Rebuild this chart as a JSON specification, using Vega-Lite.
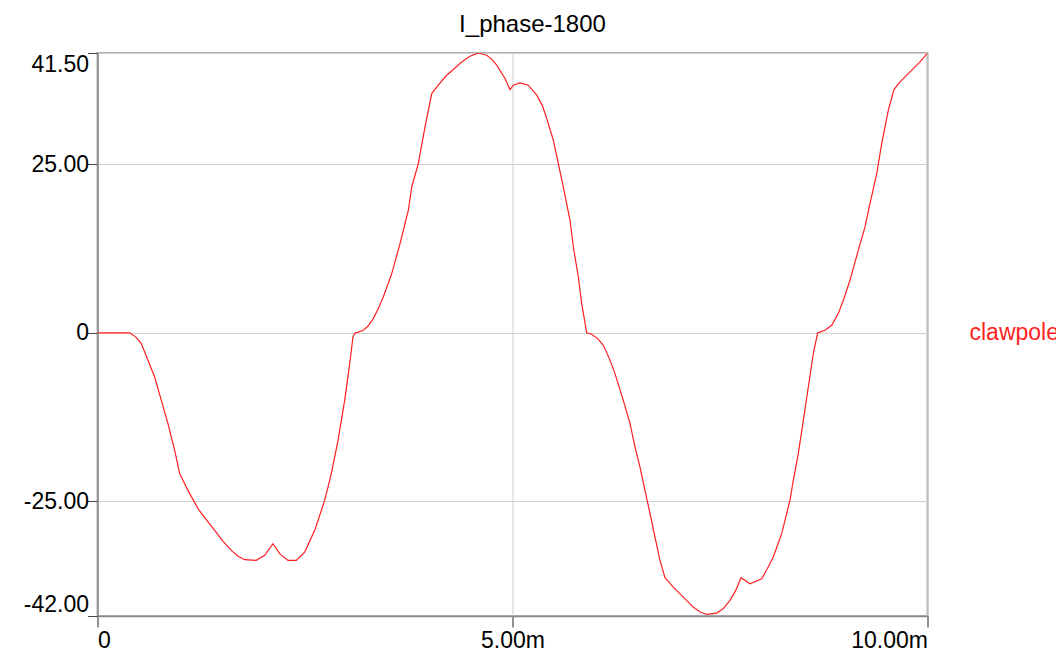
{
  "$schema": "https://vega.github.io/schema/vega-lite/v6.json",
  "autosize": {"type": "none"},
  "width": 830,
  "height": 563,
  "padding": {"left": 97.5, "top": 53, "right": 130, "bottom": 47},
  "background": "white",
  "title": {"text": "I_phase-1800", "fontSize": 24, "font": "Liberation Sans", "fontWeight": "normal", "color": "#000", "offset": 16, "dx": 20},
  "config": {
    "view": {"stroke": "#b0b0b0", "strokeWidth": 2},
    "font": "Liberation Sans"
  },
  "data": {"values": [
    {"t": 0, "v": 0, "s": "clawpole"},
    {"t": 0.388, "v": 0, "s": "clawpole"},
    {"t": 0.46, "v": -0.6, "s": "clawpole"},
    {"t": 0.528, "v": -1.6, "s": "clawpole"},
    {"t": 0.608, "v": -4.08, "s": "clawpole"},
    {"t": 0.689, "v": -6.56, "s": "clawpole"},
    {"t": 0.769, "v": -10.01, "s": "clawpole"},
    {"t": 0.849, "v": -13.47, "s": "clawpole"},
    {"t": 0.93, "v": -17.43, "s": "clawpole"},
    {"t": 0.99, "v": -20.89, "s": "clawpole"},
    {"t": 1.09, "v": -23.37, "s": "clawpole"},
    {"t": 1.211, "v": -26.08, "s": "clawpole"},
    {"t": 1.31, "v": -27.7, "s": "clawpole"},
    {"t": 1.412, "v": -29.3, "s": "clawpole"},
    {"t": 1.51, "v": -30.9, "s": "clawpole"},
    {"t": 1.612, "v": -32.27, "s": "clawpole"},
    {"t": 1.69, "v": -33.1, "s": "clawpole"},
    {"t": 1.773, "v": -33.65, "s": "clawpole"},
    {"t": 1.913, "v": -33.75, "s": "clawpole"},
    {"t": 2.014, "v": -33.01, "s": "clawpole"},
    {"t": 2.114, "v": -31.28, "s": "clawpole"},
    {"t": 2.195, "v": -32.76, "s": "clawpole"},
    {"t": 2.295, "v": -33.75, "s": "clawpole"},
    {"t": 2.395, "v": -33.75, "s": "clawpole"},
    {"t": 2.496, "v": -32.52, "s": "clawpole"},
    {"t": 2.617, "v": -29.3, "s": "clawpole"},
    {"t": 2.737, "v": -24.85, "s": "clawpole"},
    {"t": 2.817, "v": -20.89, "s": "clawpole"},
    {"t": 2.898, "v": -15.95, "s": "clawpole"},
    {"t": 2.978, "v": -10.01, "s": "clawpole"},
    {"t": 3.039, "v": -4.57, "s": "clawpole"},
    {"t": 3.078, "v": -0.62, "s": "clawpole"},
    {"t": 3.106, "v": 0, "s": "clawpole"},
    {"t": 3.13, "v": 0.07, "s": "clawpole"},
    {"t": 3.202, "v": 0.37, "s": "clawpole"},
    {"t": 3.26, "v": 1.0, "s": "clawpole"},
    {"t": 3.323, "v": 2.11, "s": "clawpole"},
    {"t": 3.383, "v": 3.6, "s": "clawpole"},
    {"t": 3.443, "v": 5.31, "s": "clawpole"},
    {"t": 3.545, "v": 8.78, "s": "clawpole"},
    {"t": 3.645, "v": 13.23, "s": "clawpole"},
    {"t": 3.745, "v": 18.18, "s": "clawpole"},
    {"t": 3.786, "v": 21.63, "s": "clawpole"},
    {"t": 3.865, "v": 25.1, "s": "clawpole"},
    {"t": 3.946, "v": 30.53, "s": "clawpole"},
    {"t": 4.027, "v": 35.49, "s": "clawpole"},
    {"t": 4.106, "v": 36.72, "s": "clawpole"},
    {"t": 4.207, "v": 38.2, "s": "clawpole"},
    {"t": 4.29, "v": 39.1, "s": "clawpole"},
    {"t": 4.367, "v": 39.94, "s": "clawpole"},
    {"t": 4.43, "v": 40.55, "s": "clawpole"},
    {"t": 4.488, "v": 41.02, "s": "clawpole"},
    {"t": 4.588, "v": 41.5, "s": "clawpole"},
    {"t": 4.689, "v": 41.17, "s": "clawpole"},
    {"t": 4.75, "v": 40.6, "s": "clawpole"},
    {"t": 4.81, "v": 39.69, "s": "clawpole"},
    {"t": 4.91, "v": 37.72, "s": "clawpole"},
    {"t": 4.97, "v": 36.08, "s": "clawpole"},
    {"t": 5.01, "v": 36.72, "s": "clawpole"},
    {"t": 5.09, "v": 37.06, "s": "clawpole"},
    {"t": 5.19, "v": 36.72, "s": "clawpole"},
    {"t": 5.292, "v": 35.24, "s": "clawpole"},
    {"t": 5.36, "v": 33.7, "s": "clawpole"},
    {"t": 5.412, "v": 31.78, "s": "clawpole"},
    {"t": 5.492, "v": 28.56, "s": "clawpole"},
    {"t": 5.552, "v": 25.1, "s": "clawpole"},
    {"t": 5.612, "v": 21.63, "s": "clawpole"},
    {"t": 5.693, "v": 16.69, "s": "clawpole"},
    {"t": 5.733, "v": 12.73, "s": "clawpole"},
    {"t": 5.793, "v": 8.28, "s": "clawpole"},
    {"t": 5.834, "v": 4.33, "s": "clawpole"},
    {"t": 5.894, "v": 0, "s": "clawpole"},
    {"t": 5.954, "v": -0.22, "s": "clawpole"},
    {"t": 6.03, "v": -0.9, "s": "clawpole"},
    {"t": 6.094, "v": -1.85, "s": "clawpole"},
    {"t": 6.17, "v": -3.9, "s": "clawpole"},
    {"t": 6.235, "v": -6.05, "s": "clawpole"},
    {"t": 6.335, "v": -10.01, "s": "clawpole"},
    {"t": 6.416, "v": -13.47, "s": "clawpole"},
    {"t": 6.476, "v": -16.94, "s": "clawpole"},
    {"t": 6.536, "v": -19.91, "s": "clawpole"},
    {"t": 6.596, "v": -23.37, "s": "clawpole"},
    {"t": 6.657, "v": -26.82, "s": "clawpole"},
    {"t": 6.717, "v": -30.3, "s": "clawpole"},
    {"t": 6.777, "v": -33.75, "s": "clawpole"},
    {"t": 6.837, "v": -36.32, "s": "clawpole"},
    {"t": 6.937, "v": -37.72, "s": "clawpole"},
    {"t": 7.058, "v": -39.2, "s": "clawpole"},
    {"t": 7.178, "v": -40.68, "s": "clawpole"},
    {"t": 7.26, "v": -41.4, "s": "clawpole"},
    {"t": 7.34, "v": -41.77, "s": "clawpole"},
    {"t": 7.46, "v": -41.57, "s": "clawpole"},
    {"t": 7.54, "v": -40.9, "s": "clawpole"},
    {"t": 7.62, "v": -39.69, "s": "clawpole"},
    {"t": 7.69, "v": -38.2, "s": "clawpole"},
    {"t": 7.753, "v": -36.32, "s": "clawpole"},
    {"t": 7.861, "v": -37.21, "s": "clawpole"},
    {"t": 8.002, "v": -36.47, "s": "clawpole"},
    {"t": 8.07, "v": -35.0, "s": "clawpole"},
    {"t": 8.142, "v": -33.26, "s": "clawpole"},
    {"t": 8.243, "v": -29.79, "s": "clawpole"},
    {"t": 8.343, "v": -24.85, "s": "clawpole"},
    {"t": 8.383, "v": -21.88, "s": "clawpole"},
    {"t": 8.443, "v": -17.92, "s": "clawpole"},
    {"t": 8.504, "v": -12.98, "s": "clawpole"},
    {"t": 8.564, "v": -8.04, "s": "clawpole"},
    {"t": 8.624, "v": -3.09, "s": "clawpole"},
    {"t": 8.677, "v": 0, "s": "clawpole"},
    {"t": 8.765, "v": 0.37, "s": "clawpole"},
    {"t": 8.846, "v": 1.11, "s": "clawpole"},
    {"t": 8.925, "v": 2.85, "s": "clawpole"},
    {"t": 8.986, "v": 4.82, "s": "clawpole"},
    {"t": 9.066, "v": 7.79, "s": "clawpole"},
    {"t": 9.166, "v": 12.24, "s": "clawpole"},
    {"t": 9.247, "v": 15.7, "s": "clawpole"},
    {"t": 9.307, "v": 19.17, "s": "clawpole"},
    {"t": 9.388, "v": 23.62, "s": "clawpole"},
    {"t": 9.448, "v": 28.07, "s": "clawpole"},
    {"t": 9.528, "v": 33.01, "s": "clawpole"},
    {"t": 9.596, "v": 36.08, "s": "clawpole"},
    {"t": 9.669, "v": 37.21, "s": "clawpole"},
    {"t": 9.789, "v": 38.69, "s": "clawpole"},
    {"t": 9.91, "v": 40.18, "s": "clawpole"},
    {"t": 10.0, "v": 41.47, "s": "clawpole"}
  ]},
  "mark": {"type": "line", "strokeWidth": 1.2, "clip": true},
  "encoding": {
    "x": {
      "field": "t", "type": "quantitative",
      "scale": {"domain": [0, 10], "nice": false, "zero": false},
      "axis": {
        "title": null, "values": [0, 5, 10],
        "labelExpr": "datum.value == 0 ? '0' : format(datum.value, '.2f') + 'm'",
        "labelFlush": true, "labelFontSize": 23, "labelColor": "#000", "labelFont": "Liberation Sans",
        "tickSize": 11, "tickColor": "#222", "labelPadding": 2,
        "domainColor": "#888", "domainWidth": 1.5,
        "gridColor": "#d0d0d0", "gridWidth": 1
      }
    },
    "y": {
      "field": "v", "type": "quantitative",
      "scale": {"domain": [-42, 41.5], "nice": false, "zero": false},
      "axis": {
        "title": null, "values": [-42, -25, 0, 25, 41.5],
        "labelExpr": "datum.value == 0 ? '0' : replace(format(datum.value, '.2f'), '\u2212', '-')",
        "labelFlush": true, "labelFontSize": 23, "labelColor": "#000", "labelFont": "Liberation Sans",
        "tickSize": 10, "tickColor": "#444", "labelPadding": -1,
        "domainColor": "#888", "domainWidth": 1.5,
        "gridColor": "#d0d0d0", "gridWidth": 1
      }
    },
    "color": {
      "field": "s", "type": "nominal",
      "scale": {"range": ["#ff1f1f"]},
      "legend": {
        "title": null, "orient": "none", "legendX": 849, "legendY": 268,
        "symbolSize": 0, "symbolStrokeWidth": 0, "symbolOpacity": 0,
        "labelOffset": 0, "padding": 0, "labelLimit": 400,
        "labelFontSize": 23, "labelColor": "#ff1f1f", "labelFont": "Liberation Sans"
      }
    }
  }
}
